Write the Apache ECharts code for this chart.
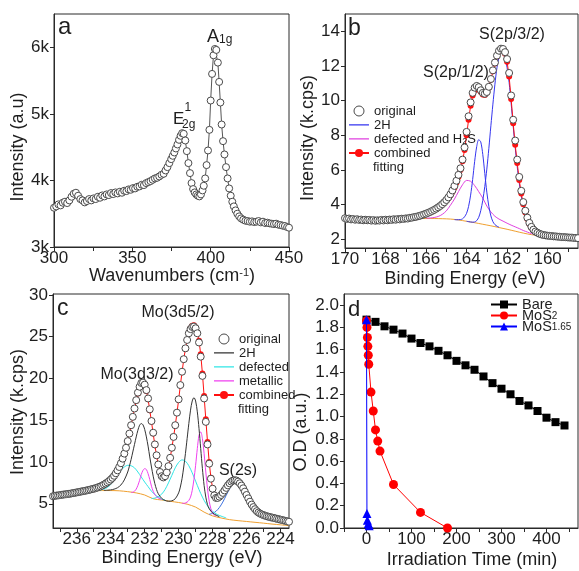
<!DOCTYPE html>
<html>
<head>
<meta charset="utf-8">
<script src="https://cdn.jsdelivr.net/npm/echarts@6/dist/echarts.min.js"></script>
<style>
  html, body { margin: 0; padding: 0; background: #fff; }
  #chart { width: 579px; height: 571px; }
</style>
</head>
<body>
<div id="chart"></div>
<script>
// ---------- (a) Raman spectrum ----------
const ramanShift = [300.0,301.4,302.8,304.2,305.6,307.0,308.4,309.8,311.2,312.6,314.0,315.4,316.8,318.2,319.6,321.0,322.4,323.8,325.2,326.6,328.0,329.4,330.8,332.2,333.6,335.0,336.4,337.8,339.2,340.6,342.0,343.4,344.8,346.2,347.6,349.0,350.4,351.8,353.2,354.6,356.0,357.4,358.8,360.2,361.6,363.0,364.4,365.8,367.2,368.6,370.0,371.2,372.4,373.6,374.8,375.8,376.8,377.8,378.8,379.8,380.8,381.8,382.8,383.8,384.8,385.8,386.8,387.8,388.8,389.8,390.8,391.8,392.8,393.8,394.8,395.6,396.5,397.4,398.3,399.2,400.0,400.9,401.8,402.7,403.6,404.6,405.4,406.2,407.0,407.9,408.8,409.8,410.8,411.8,412.8,413.8,414.8,415.9,417.0,418.2,419.4,420.8,422.2,423.6,425.0,426.4,427.8,429.2,430.6,432.0,433.4,434.8,436.2,437.6,439.0,440.4,441.8,443.2,444.6,446.0,447.4,448.8,450.0];
const ramanIntensity = [3590,3610,3640,3625,3665,3680,3660,3700,3755,3800,3815,3770,3720,3700,3670,3690,3720,3700,3730,3720,3755,3740,3775,3760,3790,3780,3810,3795,3820,3805,3830,3815,3845,3840,3865,3860,3885,3880,3905,3910,3935,3930,3960,3975,3990,4010,4030,4040,4060,4085,4100,4150,4200,4260,4320,4370,4420,4480,4540,4610,4670,4710,4700,4600,4440,4260,4110,3960,3870,3820,3790,3770,3760,3790,3850,3920,4030,4230,4450,4760,5200,5600,5880,5975,5960,5770,5480,5170,4840,4590,4390,4200,4030,3880,3770,3680,3610,3550,3500,3460,3430,3410,3395,3390,3380,3385,3375,3380,3390,3370,3380,3360,3365,3355,3350,3345,3350,3335,3330,3320,3315,3300,3290];

// ---------- (b) S 2p XPS, 0.1 eV steps ----------
const s2pStart = 170.0, s2pStep = 0.1;
const s2pOriginal = [3.22,3.18,3.2,3.15,3.17,3.13,3.16,3.12,3.14,3.1,3.13,3.1,3.12,3.08,3.11,3.07,3.1,3.08,3.12,3.09,3.13,3.1,3.14,3.12,3.16,3.13,3.17,3.15,3.19,3.18,3.21,3.2,3.24,3.25,3.28,3.3,3.33,3.36,3.4,3.44,3.48,3.53,3.58,3.64,3.7,3.77,3.85,3.93,4.03,4.14,4.27,4.42,4.6,4.82,5.08,5.38,5.72,6.1,6.6,7.3,8.2,9.1,9.9,10.45,10.75,10.85,10.78,10.6,10.45,10.4,10.5,10.8,11.25,11.75,12.2,12.6,12.88,13.0,12.98,12.8,12.4,11.6,10.3,8.9,7.7,6.6,5.6,4.8,4.15,3.65,3.25,2.95,2.72,2.56,2.45,2.38,2.32,2.28,2.25,2.23,2.21,2.2,2.19,2.17,2.17,2.15,2.15,2.13,2.13,2.12,2.11,2.1,2.1,2.08,2.08,2.07];
const s2pFitStart = 166.5;
const s2pFit = [3.27,3.3,3.33,3.37,3.41,3.45,3.5,3.55,3.61,3.67,3.74,3.82,3.9,4.0,4.1,4.22,4.36,4.53,4.73,4.98,5.27,5.6,6.0,6.5,7.15,8.0,8.9,9.7,10.3,10.6,10.7,10.65,10.5,10.35,10.32,10.45,10.75,11.2,11.7,12.15,12.55,12.82,12.95,12.9,12.7,12.25,11.4,10.1,8.7,7.45,6.4,5.42,4.65,4.02,3.55,3.17,2.88,2.67,2.52,2.42,2.35,2.3,2.27,2.24,2.22,2.2];
const s2pBackground = [[166.4,3.2],[166.0,3.2],[165.6,3.2],[165.2,3.19],[164.8,3.17],[164.4,3.12],[164.0,3.04],[163.6,2.96],[163.2,2.87],[162.8,2.78],[162.4,2.68],[162.0,2.58],[161.6,2.47],[161.2,2.36],[160.8,2.27],[160.5,2.22]];
const s2p2H_half = [[164.6,3.14],[164.5,3.13],[164.4,3.13],[164.3,3.14],[164.2,3.18],[164.1,3.3],[164.0,3.5],[163.9,3.9],[163.8,4.55],[163.7,5.45],[163.6,6.5],[163.5,7.35],[163.4,7.75],[163.3,7.62],[163.2,6.9],[163.1,5.8],[163.0,4.72],[162.9,3.9],[162.8,3.35],[162.7,3.02],[162.6,2.85],[162.5,2.76],[162.4,2.7]];
const s2p2H_threeHalf = [[164.0,3.04],[163.9,3.02],[163.8,3.0],[163.7,2.99],[163.6,3.0],[163.5,3.08],[163.4,3.27],[163.3,3.65],[163.2,4.25],[163.1,5.05],[163.0,6.05],[162.9,7.25],[162.8,8.55],[162.7,9.8],[162.6,10.95],[162.5,11.9],[162.4,12.5],[162.3,12.8],[162.2,12.78],[162.1,12.5],[162.0,11.9],[161.9,11.05],[161.8,9.85],[161.7,8.55],[161.6,7.3],[161.5,6.2],[161.4,5.25],[161.3,4.5],[161.2,3.9],[161.1,3.45],[161.0,3.1],[160.9,2.85],[160.8,2.66],[160.7,2.52],[160.6,2.42],[160.5,2.35],[160.4,2.3]];
const s2pDefected = [[166.0,3.22],[165.8,3.23],[165.6,3.26],[165.4,3.32],[165.2,3.44],[165.0,3.64],[164.8,3.96],[164.6,4.32],[164.4,4.75],[164.2,5.15],[164.0,5.4],[163.8,5.35],[163.6,5.1],[163.4,4.75],[163.2,4.38],[163.0,3.92],[162.8,3.58],[162.6,3.33],[162.4,3.17],[162.2,3.05],[162.0,2.93],[161.8,2.82],[161.6,2.72],[161.4,2.62],[161.2,2.51],[161.0,2.42],[160.8,2.33],[160.6,2.26]];

// ---------- (c) Mo 3d / S 2s XPS, 0.1 eV steps ----------
const mo3dStart = 237.4, mo3dStep = 0.1;
const mo3dOriginal = [5.9,5.95,5.98,6.0,6.03,6.06,6.1,6.12,6.15,6.18,6.2,6.25,6.28,6.32,6.36,6.4,6.44,6.48,6.52,6.56,6.6,6.65,6.7,6.75,6.8,6.86,6.93,7.0,7.08,7.18,7.3,7.42,7.56,7.72,7.9,8.1,8.35,8.65,9.0,9.4,9.85,10.4,11.0,11.7,12.5,13.4,14.4,15.4,16.4,17.4,18.3,19.0,19.45,19.5,19.25,18.6,17.6,16.3,14.9,13.5,12.1,10.8,9.7,8.8,8.3,8.15,8.3,8.75,9.5,10.5,11.7,13.0,14.4,15.9,17.5,19.2,20.8,22.3,23.6,24.6,25.4,25.9,26.15,26.2,26.0,25.4,24.3,22.6,20.3,17.6,14.8,12.1,9.8,8.0,6.8,6.0,5.7,5.7,5.85,6.05,6.3,6.6,6.9,7.2,7.45,7.65,7.78,7.82,7.78,7.65,7.45,7.18,6.85,6.45,6.05,5.65,5.25,4.9,4.6,4.35,4.12,3.95,3.82,3.72,3.64,3.57,3.5,3.45,3.4,3.35,3.3,3.25,3.2,3.15,3.1,3.05,3.0,2.95,2.9,2.85];
const mo3dFitStart = 235.0;
const mo3dFit = [6.75,6.82,6.9,6.98,7.06,7.16,7.28,7.4,7.54,7.7,7.88,8.08,8.32,8.62,8.97,9.37,9.82,10.35,10.95,11.65,12.45,13.35,14.35,15.35,16.35,17.3,18.2,18.9,19.35,19.4,19.15,18.5,17.5,16.2,14.8,13.4,12.0,10.75,9.65,8.8,8.25,8.1,8.25,8.7,9.45,10.45,11.65,12.95,14.35,15.85,17.45,19.15,20.75,22.25,23.55,24.6,25.45,26.0,26.3,26.35,26.1,25.5,24.5,22.9,20.6,17.9,15.1,12.4,10.0,8.1,6.85,6.05,5.7,5.68,5.82,6.02];
const mo3dBackground = [[235.0,6.55],[234.5,6.58],[234.0,6.58],[233.5,6.55],[233.0,6.45],[232.5,6.3],[232.0,6.05],[231.5,5.6],[231.0,5.45],[230.5,5.3],[230.0,5.15],[229.5,4.95],[229.0,4.6],[228.5,4.0],[228.0,3.55],[227.5,3.3],[227.0,3.1],[226.5,2.98],[226.0,2.88],[225.5,2.78],[225.0,2.68],[224.5,2.57],[224.0,2.48],[223.5,2.38]];
const mo3d2H = [[234.4,6.6],[234.2,6.62],[234.0,6.66],[233.8,6.75],[233.6,6.92],[233.4,7.25],[233.2,7.85],[233.0,8.8],[232.9,9.5],[232.8,10.3],[232.7,11.2],[232.6,12.1],[232.5,13.0],[232.4,13.8],[232.3,14.4],[232.2,14.6],[232.1,14.45],[232.0,13.9],[231.9,13.0],[231.8,11.9],[231.7,10.6],[231.6,9.4],[231.5,8.3],[231.4,7.4],[231.3,6.7],[231.2,6.2],[231.0,5.65],[230.8,5.4],[230.6,5.3],[230.4,5.35],[230.2,5.6],[230.0,6.3],[229.9,7.0],[229.8,8.0],[229.7,9.4],[229.6,11.0],[229.5,12.8],[229.4,14.6],[229.3,16.2],[229.2,17.3],[229.1,17.7],[229.0,17.3],[228.9,16.0],[228.8,14.0],[228.7,11.6],[228.6,9.2],[228.5,7.2],[228.4,5.8],[228.3,4.9],[228.2,4.4],[228.0,3.9],[227.8,3.65],[227.6,3.45]];
const mo3dDefected32 = [[234.8,6.58],[234.6,6.65],[234.4,6.75],[234.2,6.95],[234.0,7.3],[233.8,7.8],[233.6,8.4],[233.4,9.0],[233.2,9.4],[233.0,9.6],[232.8,9.55],[232.6,9.3],[232.4,8.8],[232.2,8.2],[232.0,7.6],[231.8,7.05],[231.6,6.5],[231.4,6.1],[231.2,5.8],[231.0,5.55],[230.8,5.42]];
const mo3dDefected52 = [[231.6,5.62],[231.4,5.68],[231.2,5.85],[231.0,6.15],[230.8,6.7],[230.6,7.5],[230.4,8.4],[230.2,9.3],[230.0,9.95],[229.8,10.25],[229.6,10.1],[229.4,9.55],[229.2,8.7],[229.0,7.7],[228.8,6.7],[228.6,5.8],[228.4,5.05],[228.2,4.5],[228.0,4.1],[227.8,3.8],[227.6,3.6],[227.4,3.45],[227.2,3.3]];
const mo3dMetallic32 = [[232.8,6.35],[232.7,6.38],[232.6,6.5],[232.5,6.75],[232.4,7.2],[232.3,7.8],[232.2,8.5],[232.1,9.0],[232.0,9.2],[231.9,9.1],[231.8,8.6],[231.7,7.9],[231.6,7.1],[231.5,6.5],[231.4,6.1],[231.3,5.85],[231.2,5.7],[231.1,5.6],[231.0,5.5]];
const mo3dMetallic52 = [[229.8,5.05],[229.7,5.05],[229.6,5.1],[229.5,5.2],[229.4,5.4],[229.3,5.8],[229.2,6.6],[229.1,7.9],[229.0,9.6],[228.9,11.6],[228.8,13.2],[228.7,13.6],[228.6,12.8],[228.5,11.0],[228.4,8.8],[228.3,6.8],[228.2,5.3],[228.1,4.4],[228.0,3.9],[227.9,3.65],[227.8,3.55]];
const s2sPeak = [[228.2,3.75],[228.0,3.85],[227.8,4.1],[227.6,4.55],[227.4,5.2],[227.2,6.0],[227.0,6.8],[226.8,7.4],[226.6,7.6],[226.4,7.35],[226.2,6.8],[226.0,6.05],[225.8,5.3],[225.6,4.6],[225.4,4.05],[225.2,3.65],[225.0,3.35],[224.8,3.12],[224.6,2.95]];

// ---------- (d) optical density vs irradiation time ----------
const timeBare = [0,20,40,60,80,100,120,140,160,180,200,220,240,260,280,300,320,340,360,380,400,420,440];
const odBare = [1.87,1.85,1.81,1.78,1.745,1.70,1.66,1.63,1.59,1.55,1.50,1.46,1.42,1.36,1.30,1.25,1.20,1.14,1.10,1.05,0.99,0.95,0.92];
const timeMoS2 = [0,1,2,3,4,5,10,15,20,25,30,60,120,180];
const odMoS2 = [1.86,1.80,1.71,1.63,1.55,1.47,1.22,1.05,0.88,0.78,0.69,0.39,0.14,0.0];
const timeMoS165 = [0,1,2,4,6];
const odMoS165 = [1.87,0.13,0.07,0.04,0.02];

// tick positions
const ramanTicks = [300,350,400,450];
const ramanMinor = [300,325,350,375,400,425,450];
const ramanYTicks = [3000,4000,5000,6000];
const s2pXLabels = [160,162,164,166,168,170];
const s2pXTicks = [159,160,161,162,163,164,165,166,167,168,169,170];
const s2pYLabels = [2,4,6,8,10,12,14];
const mo3dXLabels = [224,226,228,230,232,234,236];
const mo3dXTicks = [224,225,226,227,228,229,230,231,232,233,234,235,236,237];
const mo3dYLabels = [5,10,15,20,25,30];
const odXLabels = [0,100,200,300,400];
const odXTicks = [-50,0,50,100,150,200,250,300,350,400,450];
const odYLabels = [0,0.2,0.4,0.6,0.8,1.0,1.2,1.4,1.6,1.8,2.0];

const FONT = 'Liberation Sans, Arial, Helvetica, sans-serif';
const INK = '#1e1e1e';
const AXIS = '#2a2a2a';
// thin horizontal stroke used as a legend key for plain lines
const LINE_KEY = 'path://M0,0h0.01v0.01h-0.01z M0,4.3h20v1.3h-20z M0,10h0.01v0.01h-0.01z';

const pairs = (xs, ys) => xs.map((x, i) => [x, ys[i]]);
const onGrid = (start, step, ys) => ys.map((y, i) => [+(start - i * step).toFixed(2), y]);

function axis(gi, min, max, labels, ticks, extra) {
  return Object.assign({
    type: 'value', gridIndex: gi, min, max,
    axisLine: { show: true, onZero: false, lineStyle: { color: AXIS, width: 1 } },
    axisTick: { show: true, length: 4, lineStyle: { color: AXIS, width: 1 }, customValues: ticks },
    axisLabel: { fontSize: 17, color: INK, fontFamily: FONT, margin: 3, customValues: labels, hideOverlap: false },
    splitLine: { show: false }
  }, extra || {});
}

const hollow = { color: '#fff', borderColor: '#4a4a4a', borderWidth: 1 };
const hollowKey = { name: '', icon: 'circle', itemStyle: { color: '#fff', borderColor: '#4a4a4a', borderWidth: 1 } };

const legendNames = {
  'b-orig': 'original', 'b-2H': '2H', 'b-def': 'defected and H{sub|2}S', 'b-fit': 'combined',
  'c-orig': 'original', 'c-2H': '2H', 'c-def': 'defected', 'c-met': 'metallic', 'c-fit': 'combined',
  'Bare': '{n|Bare}', 'MoS2': '{n|MoS}{sub|2}', 'MoS165': '{n|MoS}{sub|1.65}'
};

function compLine(name, data, color, xi, z) {
  return { type: 'line', name, xAxisIndex: xi, yAxisIndex: xi, data, symbol: 'none', smooth: 0.3,
    lineStyle: { color, width: 1 }, itemStyle: { color }, z: z || 2, silent: true };
}

function txt(text, x, y, size, extra) {
  return Object.assign({ type: 'text', x, y, silent: true,
    style: Object.assign({ text, fontSize: size, fontFamily: FONT, fill: INK, align: 'left', verticalAlign: 'middle' },
      (extra && extra.style) || {}) }, extra && extra.rotation ? { rotation: extra.rotation } : {});
}

const richSmall = {
  sup: { fontSize: 11, fontFamily: FONT, fill: INK, verticalAlign: 'top', lineHeight: 11 },
  sub: { fontSize: 12, fontFamily: FONT, fill: INK, verticalAlign: 'bottom', lineHeight: 12 }
};

const chart = echarts.init(document.getElementById('chart'), null, { renderer: 'canvas' });

chart.setOption({
  animation: false,
  backgroundColor: '#fff',
  textStyle: { fontFamily: FONT },
  grid: [
    { left: 54, top: 14, width: 235, height: 233, show: true, borderColor: AXIS, borderWidth: 1 },
    { left: 345, top: 14, width: 233, height: 234, show: true, borderColor: AXIS, borderWidth: 1 },
    { left: 53, top: 294, width: 236, height: 234, show: true, borderColor: AXIS, borderWidth: 1 },
    { left: 344, top: 294, width: 234, height: 234, show: true, borderColor: AXIS, borderWidth: 1 }
  ],
  xAxis: [
    axis(0, 300, 450, ramanTicks, ramanMinor),
    axis(1, 158.5, 170, s2pXLabels, s2pXTicks, { inverse: true }),
    axis(2, 223.5, 237.4, mo3dXLabels, mo3dXTicks, { inverse: true }),
    axis(3, -50, 470, odXLabels, odXTicks)
  ],
  yAxis: [
    axis(0, 3000, 6500, ramanYTicks, ramanYTicks),
    axis(1, 1.5, 15, s2pYLabels, s2pYLabels),
    axis(2, 2.1, 30.1, mo3dYLabels, mo3dYLabels),
    axis(3, 0, 2.1, odYLabels, odYLabels)
  ].map((a, i) => {
    a.axisLabel.margin = 5;
    if (i === 0) a.axisLabel.formatter = v => (v / 1000) + 'k';
    if (i === 3) a.axisLabel.formatter = v => v.toFixed(1);
    return a;
  }),
  legend: [
    {
      left: 348, top: 104, padding: 0, orient: 'vertical', itemWidth: 20, itemHeight: 10, itemGap: 0,
      data: [Object.assign({}, hollowKey, { name: 'b-orig' }),
             { name: 'b-2H', icon: LINE_KEY }, { name: 'b-def', icon: LINE_KEY }, { name: 'b-fit' }],
      formatter: n => legendNames[n], selectedMode: false,
      textStyle: { fontSize: 13, lineHeight: 14, color: INK, fontFamily: FONT,
        rich: { sub: { fontSize: 9, lineHeight: 6, verticalAlign: 'bottom', fontFamily: FONT, color: INK } } }
    },
    {
      left: 213, top: 332, padding: 0, orient: 'vertical', itemWidth: 20, itemHeight: 10, itemGap: 0,
      data: [Object.assign({}, hollowKey, { name: 'c-orig' }),
             { name: 'c-2H', icon: LINE_KEY }, { name: 'c-def', icon: LINE_KEY }, { name: 'c-met', icon: LINE_KEY }, { name: 'c-fit' }],
      formatter: n => legendNames[n], selectedMode: false,
      textStyle: { fontSize: 13, lineHeight: 14, color: INK, fontFamily: FONT }
    },
    {
      left: 490, top: 297, padding: 0, orient: 'vertical', itemWidth: 26, itemHeight: 10, itemGap: -4,
      data: ['Bare', 'MoS2', 'MoS165'],
      formatter: n => legendNames[n], selectedMode: false,
      textStyle: { fontSize: 14, lineHeight: 12, color: INK, fontFamily: FONT,
        rich: {
          n: { fontSize: 14.5, lineHeight: 12, fontFamily: FONT, color: INK },
          sub: { fontSize: 10, lineHeight: 2, verticalAlign: 'bottom', fontFamily: FONT, color: INK }
        } }
    }
  ],
  series: [
    // (a)
    { type: 'line', name: 'raman', xAxisIndex: 0, yAxisIndex: 0, data: pairs(ramanShift, ramanIntensity),
      symbol: 'circle', symbolSize: 7, itemStyle: hollow, lineStyle: { color: '#555', width: 1 }, z: 3 },

    // (b)
    compLine('b-bg', s2pBackground, '#f0a030', 1),
    compLine('b-def', s2pDefected, '#e040e0', 1),
    compLine('b-2H', s2p2H_half, '#3535f0', 1),
    compLine('b-2H', s2p2H_threeHalf, '#3535f0', 1),
    { type: 'line', name: 'b-fit', xAxisIndex: 1, yAxisIndex: 1, data: onGrid(s2pFitStart, s2pStep, s2pFit),
      symbol: 'circle', symbolSize: 6, itemStyle: { color: '#ff1010' }, lineStyle: { color: '#ff1010', width: 1 }, z: 3 },
    { type: 'line', name: 'b-orig', xAxisIndex: 1, yAxisIndex: 1, data: onGrid(s2pStart, s2pStep, s2pOriginal),
      symbol: 'circle', symbolSize: 7, itemStyle: hollow, lineStyle: { width: 0, opacity: 0 }, z: 4 },

    // (c)
    compLine('c-bg', mo3dBackground, '#f0a030', 2),
    compLine('c-s2s', s2sPeak, '#3a6fe0', 2),
    compLine('c-def', mo3dDefected32, '#30e6e6', 2),
    compLine('c-def', mo3dDefected52, '#30e6e6', 2),
    compLine('c-met', mo3dMetallic32, '#f040f0', 2),
    compLine('c-met', mo3dMetallic52, '#f040f0', 2),
    compLine('c-2H', mo3d2H, '#333333', 2),
    { type: 'line', name: 'c-fit', xAxisIndex: 2, yAxisIndex: 2, data: onGrid(mo3dFitStart, mo3dStep, mo3dFit),
      symbol: 'circle', symbolSize: 6, itemStyle: { color: '#ff1010' }, lineStyle: { color: '#ff1010', width: 1 }, z: 3 },
    { type: 'line', name: 'c-orig', xAxisIndex: 2, yAxisIndex: 2, data: onGrid(mo3dStart, mo3dStep, mo3dOriginal),
      symbol: 'circle', symbolSize: 7, itemStyle: hollow, lineStyle: { width: 0, opacity: 0 }, z: 4 },

    // (d)
    { type: 'line', name: 'Bare', xAxisIndex: 3, yAxisIndex: 3, data: pairs(timeBare, odBare),
      symbol: 'rect', symbolSize: 8, itemStyle: { color: '#000' }, lineStyle: { color: '#000', width: 1 }, z: 3 },
    { type: 'line', name: 'MoS2', xAxisIndex: 3, yAxisIndex: 3, data: pairs(timeMoS2, odMoS2),
      symbol: 'circle', symbolSize: 9, itemStyle: { color: '#ff0000' }, lineStyle: { color: '#ff0000', width: 1 }, z: 4 },
    { type: 'line', name: 'MoS165', xAxisIndex: 3, yAxisIndex: 3, data: pairs(timeMoS165, odMoS165),
      symbol: 'triangle', symbolSize: 9, itemStyle: { color: '#0000ff' }, lineStyle: { color: '#0000ff', width: 1 }, z: 5 }
  ],
  graphic: [
    // panel letters
    txt('a', 58, 27, 24),
    txt('b', 348, 29, 23),
    txt('c', 57, 309, 23),
    txt('d', 348, 310, 22),
    // second line of the "combined fitting" legend entries
    txt('fitting', 373, 167, 13),
    txt('fitting', 238, 409, 13),
    // axis titles
    txt('Wavenumbers (cm{sup|-1})', 172, 276, 18, { style: { align: 'center', rich: richSmall } }),
    txt('Binding Energy (eV)', 465, 279, 18, { style: { align: 'center' } }),
    txt('Binding Energy (eV)', 182, 558, 18, { style: { align: 'center' } }),
    txt('Irradiation Time (min)', 472, 560, 18, { style: { align: 'center' } }),
    txt('Intensity (a.u)', 18, 147, 18, { rotation: Math.PI / 2, style: { align: 'center' } }),
    txt('Intensity (k.cps)', 308, 138, 18, { rotation: Math.PI / 2, style: { align: 'center' } }),
    txt('Intensity (k.cps)', 18, 412, 18, { rotation: Math.PI / 2, style: { align: 'center' } }),
    txt('O.D (a.u.)', 301, 432, 18, { rotation: Math.PI / 2, style: { align: 'center' } }),
    // peak labels
    txt('A{sub|1g}', 207, 37, 18, { style: { rich: richSmall } }),
    txt('E', 173, 119.5, 17),
    txt('1', 184.5, 107.5, 12),
    txt('2g', 182, 124.5, 12),
    txt('S(2p/3/2)', 512, 34.5, 16, { style: { align: 'center' } }),
    txt('S(2p/1/2)', 456, 72.5, 16, { style: { align: 'center' } }),
    txt('Mo(3d5/2)', 178, 312.5, 16, { style: { align: 'center' } }),
    txt('Mo(3d3/2)', 137, 374.5, 16, { style: { align: 'center' } }),
    txt('S(2s)', 238, 471, 16, { style: { align: 'center' } })
  ]
});
</script>
</body>
</html>
